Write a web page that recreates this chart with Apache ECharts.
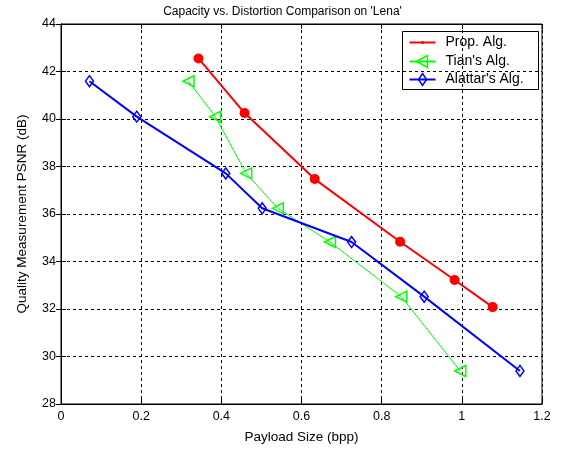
<!DOCTYPE html>
<html>
<head>
<meta charset="utf-8">
<script src="https://cdn.jsdelivr.net/npm/echarts@6/dist/echarts.min.js"></script>
<style>
  html, body { margin: 0; padding: 0; background: #fff; }
  #chart { width: 565px; height: 451px; }
</style>
</head>
<body>
<div id="chart"></div>
<script>
// values
const propX = [0.343, 0.458, 0.633, 0.846, 0.982, 1.077];
const propY = [42.55, 40.25, 37.47, 34.83, 33.22, 32.08];

const tianX = [0.318, 0.385, 0.462, 0.541, 0.671, 0.849, 0.996];
const tianY = [41.59, 40.10, 37.71, 36.24, 34.82, 32.52, 29.39];

const alattarX = [0.071, 0.189, 0.411, 0.502, 0.725, 0.906, 1.145];
const alattarY = [41.59, 40.10, 37.71, 36.24, 34.82, 32.52, 29.39];

const seriesNames = ["Prop. Alg.", "Tian's Alg.", "Alattar's Alg."];

const FONT = "Liberation Sans, Arial, sans-serif";

function pairs(xs, ys) {
  return xs.map((x, i) => [x, ys[i]]);
}

const chart = echarts.init(document.getElementById("chart"), null, { renderer: "canvas" });

const dashed = { show: true, lineStyle: { color: "#000", type: [3, 3], width: 1 } };
const tickIn = { show: true, inside: true, length: 5, lineStyle: { color: "#000" } };
const lbl = { color: "#000", fontFamily: FONT, fontSize: 12.5 };
const nameLbl = { color: "#000", fontFamily: FONT, fontSize: 13.5 };

chart.setOption({
  animation: false,
  backgroundColor: "#fff",
  title: {
    text: "Capacity vs. Distortion Comparison on 'Lena'",
    left: "center",
    top: 1,
    textStyle: { fontFamily: FONT, fontSize: 12, fontWeight: "normal", color: "#000" },
  },
  grid: { left: 61, right: 23, top: 24, bottom: 47, show: true, borderColor: "#000", borderWidth: 1 },
  xAxis: [
    {
      type: "value", min: 0, max: 1.2, interval: 0.2,
      name: "Payload Size (bpp)", nameLocation: "middle", nameGap: 26,
      nameTextStyle: nameLbl,
      axisLine: { show: true, lineStyle: { color: "#000" } },
      axisTick: tickIn, axisLabel: Object.assign({ margin: 6 }, lbl),
      splitLine: dashed,
    },
    {
      type: "value", position: "top", min: 0, max: 1.2, interval: 0.2,
      axisLine: { show: true, lineStyle: { color: "#000" } },
      axisTick: tickIn, axisLabel: { show: false }, splitLine: { show: false },
    },
  ],
  yAxis: [
    {
      type: "value", min: 28, max: 44, interval: 2,
      name: "Quality Measurement PSNR (dB)", nameLocation: "middle", nameGap: 32,
      nameTextStyle: nameLbl,
      axisLine: { show: true, lineStyle: { color: "#000" } },
      axisTick: tickIn, axisLabel: Object.assign({ margin: 5 }, lbl),
      splitLine: dashed,
    },
    {
      type: "value", position: "right", min: 28, max: 44, interval: 2,
      axisLine: { show: true, lineStyle: { color: "#000" } },
      axisTick: tickIn, axisLabel: { show: false }, splitLine: { show: false },
    },
  ],
  series: [
    {
      name: seriesNames[0], type: "line", data: pairs(propX, propY),
      symbol: "circle", symbolSize: 10,
      lineStyle: { color: "#ff0000", width: 2 },
      itemStyle: { color: "#ff0000" },
      z: 3,
    },
    {
      name: seriesNames[1], type: "line", data: pairs(tianX, tianY),
      symbol: "triangle", symbolSize: [11, 11], symbolRotate: 90, showAllSymbol: true,
      lineStyle: { color: "#00ff00", width: 1 },
      itemStyle: { color: "rgba(0,0,0,0)", borderColor: "#00ff00", borderWidth: 1.5 },
      z: 2,
    },
    {
      name: seriesNames[2], type: "line", data: pairs(alattarX, alattarY),
      symbol: "diamond", symbolSize: [8, 11],
      lineStyle: { color: "#0000ff", width: 2 },
      itemStyle: { color: "rgba(0,0,0,0)", borderColor: "#0000ff", borderWidth: 1.5 },
      z: 4,
    },
  ],
  graphic: [
    {
      type: "group", left: 402, top: 31,
      children: [
        { type: "rect", shape: { x: 0, y: 0, width: 136, height: 58 }, style: { fill: "#fff", stroke: "#000", lineWidth: 1 } },
        // Prop
        { type: "line", shape: { x1: 7, y1: 11, x2: 33, y2: 11 }, style: { stroke: "#ff0000", lineWidth: 2 } },
        { type: "circle", shape: { cx: 20, cy: 11, r: 1.5 }, style: { fill: "#ff0000" } },
        { type: "text", x: 43, y: 11, style: { text: seriesNames[0], font: "14px " + FONT, fill: "#000", verticalAlign: "middle" } },
        // Tian
        { type: "line", shape: { x1: 7, y1: 30, x2: 33, y2: 30 }, style: { stroke: "#00ff00", lineWidth: 2 } },
        { type: "polygon", shape: { points: [[14, 30], [25, 24], [25, 36]] }, style: { fill: "none", stroke: "#00ff00", lineWidth: 1.5 } },
        { type: "text", x: 43, y: 30, style: { text: seriesNames[1], font: "14px " + FONT, fill: "#000", verticalAlign: "middle" } },
        // Alattar
        { type: "line", shape: { x1: 7, y1: 48, x2: 33, y2: 48 }, style: { stroke: "#0000ff", lineWidth: 2 } },
        { type: "polygon", shape: { points: [[20, 42], [24, 48], [20, 54], [16, 48]] }, style: { fill: "none", stroke: "#0000ff", lineWidth: 1.5 } },
        { type: "text", x: 43, y: 48, style: { text: seriesNames[2], font: "14px " + FONT, fill: "#000", verticalAlign: "middle" } },
      ],
    },
  ],
});
</script>
</body>
</html>
